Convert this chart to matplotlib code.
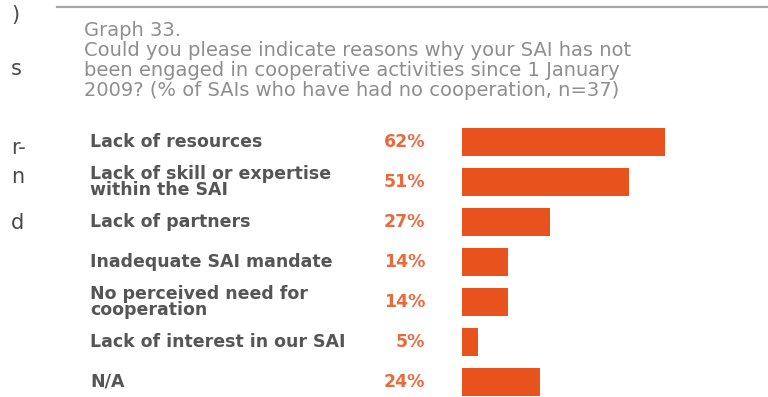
import numpy as np
import matplotlib
matplotlib.use("Agg")
import matplotlib.pyplot as plt
from matplotlib.transforms import blended_transform_factory

# Graph 33 - reasons for no cooperation (n=37)
reasons = [
    "Lack of resources",
    "Lack of skill or expertise\nwithin the SAI",
    "Lack of partners",
    "Inadequate SAI mandate",
    "No perceived need for\ncooperation",
    "Lack of interest in our SAI",
    "N/A",
]
shares = [62, 51, 27, 14, 14, 5, 24]

title_lines = [
    "Graph 33.",
    "Could you please indicate reasons why your SAI has not",
    "been engaged in cooperative activities since 1 January",
    "2009? (% of SAIs who have had no cooperation, n=37)",
]

# bits of the neighbouring column that show at the left edge
side_bits = [(")", 15), ("s", 69), ("r-", 148), ("n", 177), ("d", 223)]

W, H = 768, 397
BAR = "#e8531d"
PCT = "#e96a3e"
LABEL = "#555555"
TITLE = "#8e8e8e"

plt.rcParams["font.family"] = ["DejaVu Sans"]

fig = plt.figure(figsize=(W / 100, H / 100), dpi=100)
fig.patch.set_facecolor("white")

def fx(px):
    return px / W

def fy(py):
    return 1 - py / H

# rule above the graph
fig.add_artist(plt.Line2D([fx(57), 1.0], [fy(7), fy(7)], color="#a8a8a8", lw=1.6))

for i, line in enumerate(title_lines):
    fig.text(fx(84), fy(30 + 20.3 * i), line, fontsize=14, color=TITLE,
             ha="left", va="center")

for s, py in side_bits:
    fig.text(fx(11), fy(py), s, fontsize=15, color="#4a4a4a",
             ha="left", va="center")

# bars: 40 px per row, first row centred at y=142 px
px_per_pct = 3.27
left_px, top_px = 462, 122
ax = fig.add_axes([fx(left_px), fy(top_px + 40 * len(reasons)),
                   (W - left_px) / W, 40 * len(reasons) / H])
ax.set_xlim(0, (W - left_px) / px_per_pct)
ax.set_ylim(len(reasons) - 0.5, -0.5)
y = np.arange(len(reasons))
ax.barh(y, shares, height=0.7, color=BAR, edgecolor="none")
ax.axis("off")

tr = blended_transform_factory(fig.transFigure, ax.transData)
for i, (name, val) in enumerate(zip(reasons, shares)):
    ax.text(fx(90), i, name, transform=tr, fontsize=12.5, fontweight="bold",
            color=LABEL, ha="left", va="center", linespacing=0.8)
    ax.text(fx(425), i, f"{val}%", transform=tr, fontsize=12.5,
            fontweight="bold", color=PCT, ha="right", va="center")

fig.savefig("out.png", dpi=100, facecolor="white")
